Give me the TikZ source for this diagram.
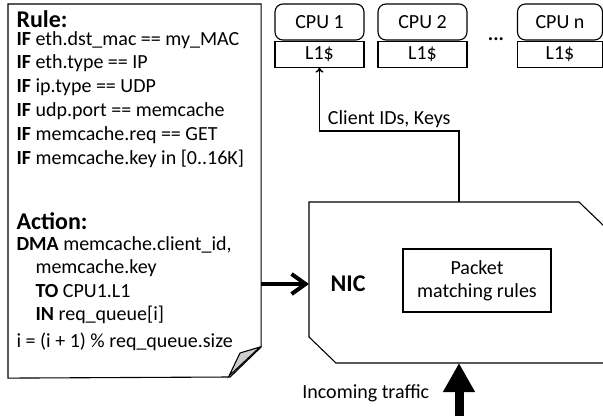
\documentclass[tikz,border=0pt]{standalone}
\usepackage{fontspec}
\setmainfont{Carlito}
\usetikzlibrary{arrows.meta,positioning}

\tikzset{
  txt/.style={anchor=base west, inner sep=0pt, font=\fontsize{20}{24}\selectfont},
  head/.style={anchor=base west, inner sep=0pt, font=\fontsize{24}{28}\selectfont\bfseries},
  cpu/.style={draw, rounded corners=8pt, minimum width=89pt, minimum height=36pt, inner sep=0pt, font=\fontsize{20}{24}\selectfont},
  cache/.style={draw, minimum width=89pt, minimum height=26pt, inner sep=0pt, font=\fontsize{20}{24}\selectfont},
}

\begin{document}
\begin{tikzpicture}[x=1pt, y=-1pt, line width=1.1pt]
  \useasboundingbox (0,0) rectangle (603,416);
  % rule sheet with folded corner
  \node[minimum width=252pt, minimum height=373pt, inner sep=0pt, anchor=north west] (rule) at (8,4) {};
  \draw (rule.north west) -- (rule.north east) -- ++(0,343) -- ++(-31,30) -- (rule.south west) -- cycle;
  \filldraw[fill=gray!40] (260,347) -- (240,353) -- (229,376) -- cycle;
  \node[head] (rulehd) at (16,27) {Rule:};
  \node[txt] (if1) at (16,45.5) {\textbf{IF} eth.dst\_mac == my\_MAC};
  \node[txt] (if2) at (16,68.5) {\textbf{IF} eth.type == IP};
  \node[txt] (if3) at (16,92) {\textbf{IF} ip.type == UDP};
  \node[txt] (if4) at (16,116) {\textbf{IF} udp.port == memcache};
  \node[txt] (if5) at (16,140) {\textbf{IF} memcache.req == GET};
  \node[txt] (if6) at (16,164) {\textbf{IF} memcache.key in [0..16K]};
  \node[head] (acthd) at (16,229) {Action:};
  \node[txt] (dma) at (16,250) {\textbf{DMA} memcache.client\_id,};
  \node[txt] (key) at (35,273.5) {memcache.key};
  \node[txt] (to) at (35,297) {\textbf{TO} CPU1.L1};
  \node[txt] (in) at (35,320.5) {\textbf{IN} req\_queue[i]};
  \node[txt] (idx) at (16,347) {i = (i + 1) \% req\_queue.size};
  % cpus
  \node[cpu] (cpu1) at (319.5,22) {CPU 1};
  \node[cache, below=0pt of cpu1] (l1a) {L1\$};
  \node[cpu] (cpu2) at (422.5,22) {CPU 2};
  \node[cache, below=0pt of cpu2] (l1b) {L1\$};
  \node[font=\fontsize{20}{24}\selectfont\bfseries] (dots) at (496,39) {...};
  \node[cpu, minimum width=85pt] (cpun) at (560,22) {CPU n};
  \node[cache, minimum width=85pt, below=0pt of cpun] (l1n) {L1\$};
  % nic
  \node[minimum width=294pt, minimum height=161pt, inner sep=0pt, anchor=north west] (nic) at (309,202) {};
  \draw (604,226) -- (579,202) -- (nic.north west) -- (309,337) -- (336,363) -- (604,363);
  \node[font=\fontsize{24}{28}\selectfont\bfseries] (niclbl) at (348,284) {NIC};
  \node[draw, minimum width=148pt, minimum height=63pt, align=center, inner sep=0pt, font=\fontsize{20}{23}\selectfont] (match) at (477,280.5) {Packet\\matching rules};
  \coordinate (nicout) at (459,202);
  \coordinate (nicin) at (459,363);
  \coordinate (wire) at (459,416);
  \draw[line width=4pt, -{Straight Barb[length=14pt,width=20pt]}] (rule.east |- niclbl) -- (nic.west |- niclbl);
  \draw[line width=1.5pt, -{To[length=5pt,width=8pt]}] (nicout) -- ++(0,-71) -| node[pos=0.25, above=-1pt, font=\fontsize{20}{24}\selectfont] (idlbl) {Client IDs, Keys} (l1a.south);
  \draw[line width=9pt, -{Triangle[length=29pt,width=30pt]}] (wire) -- (nicin);
  \node[anchor=east, font=\fontsize{20}{24}\selectfont] (trafficlbl) at (433,393) {Incoming traffic};
\end{tikzpicture}
\end{document}
